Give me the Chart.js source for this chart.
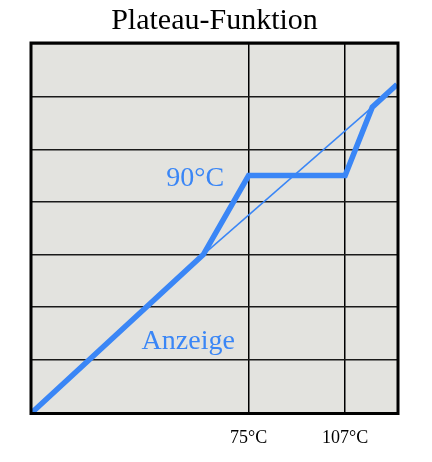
<!DOCTYPE html>
<html lang="de">
<head>
<meta charset="UTF-8">
<title>Plateau-Funktion</title>
<script src="https://cdn.jsdelivr.net/npm/chart.js"></script>
<style>
    html, body { margin: 0; padding: 0; background: #ffffff; }
    #wrap { width: 432px; height: 462px; }
</style>
</head>
<body>
<div id="wrap"><canvas id="grafico"></canvas></div>
<script>
    // Werte
    const temperatur = [3.2, 60, 75, 107, 116, 124.2];
    const anzeige = [0, 3, 4.5, 4.5, 5.8, 6.23];
    const linearX = [60, 116];
    const linearY = [3, 5.8];
    const xTicks = [75, 107];
    const xTickLabels = ['75°C', '107°C'];

    const blau = 'rgb(58,134,246)';
    const serif = "'Liberation Serif', 'DejaVu Serif', serif";

    function punkte(xs, ys) {
        let p = [];
        for (let i = 0; i < xs.length; i++) {
            p.push({ x: xs[i], y: ys[i] });
        }
        return p;
    }

    // Hintergrund, Rahmen und Beschriftungen im Diagramm
    const rahmen = {
        id: 'rahmen',
        beforeDraw(chart) {
            const a = chart.chartArea;
            const ctx = chart.ctx;
            ctx.save();
            ctx.fillStyle = '#e3e3df';
            ctx.fillRect(a.left, a.top, a.right - a.left, a.bottom - a.top);
            ctx.restore();
        },
        afterDraw(chart) {
            const a = chart.chartArea;
            const ctx = chart.ctx;
            const x = chart.scales.x;
            const y = chart.scales.y;
            ctx.save();
            ctx.strokeStyle = '#000';
            ctx.lineWidth = 3;
            ctx.strokeRect(a.left - 1, a.top - 1, a.right - a.left + 2, a.bottom - a.top + 2);

            ctx.fillStyle = blau;
            ctx.font = '28px ' + serif;
            ctx.textAlign = 'center';
            ctx.textBaseline = 'middle';
            ctx.fillText('90°C', x.getPixelForValue(57.3), y.getPixelForValue(4.45));
            ctx.fillText('Anzeige', x.getPixelForValue(55), y.getPixelForValue(1.34));
            ctx.restore();
        }
    };

    new Chart(document.getElementById('grafico'), {
        type: 'line',
        data: {
            datasets: [{
                label: 'Anzeige',
                data: punkte(temperatur, anzeige),
                borderColor: blau,
                borderWidth: 5.5,
                pointRadius: 0,
                tension: 0,
                clip: false
            }, {
                label: 'linear',
                data: punkte(linearX, linearY),
                borderColor: blau,
                borderWidth: 1.5,
                pointRadius: 0,
                tension: 0
            }]
        },
        options: {
            responsive: true,
            maintainAspectRatio: false,
            animation: false,
            layout: {
                padding: { left: 32, right: 35, top: 0, bottom: 0 }
            },
            scales: {
                x: {
                    type: 'linear',
                    min: 3.2,
                    max: 124.2,
                    afterBuildTicks: function (axis) {
                        axis.ticks = xTicks.map(v => ({ value: v }));
                    },
                    afterFit: function (axis) {
                        axis.height = 49.5;
                    },
                    ticks: {
                        padding: 15,
                        color: '#000',
                        font: { size: 18, family: serif },
                        callback: function (value) {
                            return xTickLabels[xTicks.indexOf(value)];
                        }
                    },
                    grid: {
                        color: '#000',
                        lineWidth: 1.5,
                        drawTicks: false
                    },
                    border: { display: false }
                },
                y: {
                    min: 0,
                    max: 7,
                    ticks: { display: false, stepSize: 1 },
                    grid: {
                        color: '#1a1a1a',
                        lineWidth: 1.5,
                        drawTicks: false
                    },
                    border: { display: false }
                }
            },
            plugins: {
                legend: { display: false },
                tooltip: { enabled: false },
                title: {
                    display: true,
                    text: 'Plateau-Funktion',
                    color: '#000',
                    font: { size: 30, family: serif, weight: 'normal' },
                    padding: { top: 3, bottom: 5 }
                }
            }
        },
        plugins: [rahmen]
    });
</script>
</body>
</html>
